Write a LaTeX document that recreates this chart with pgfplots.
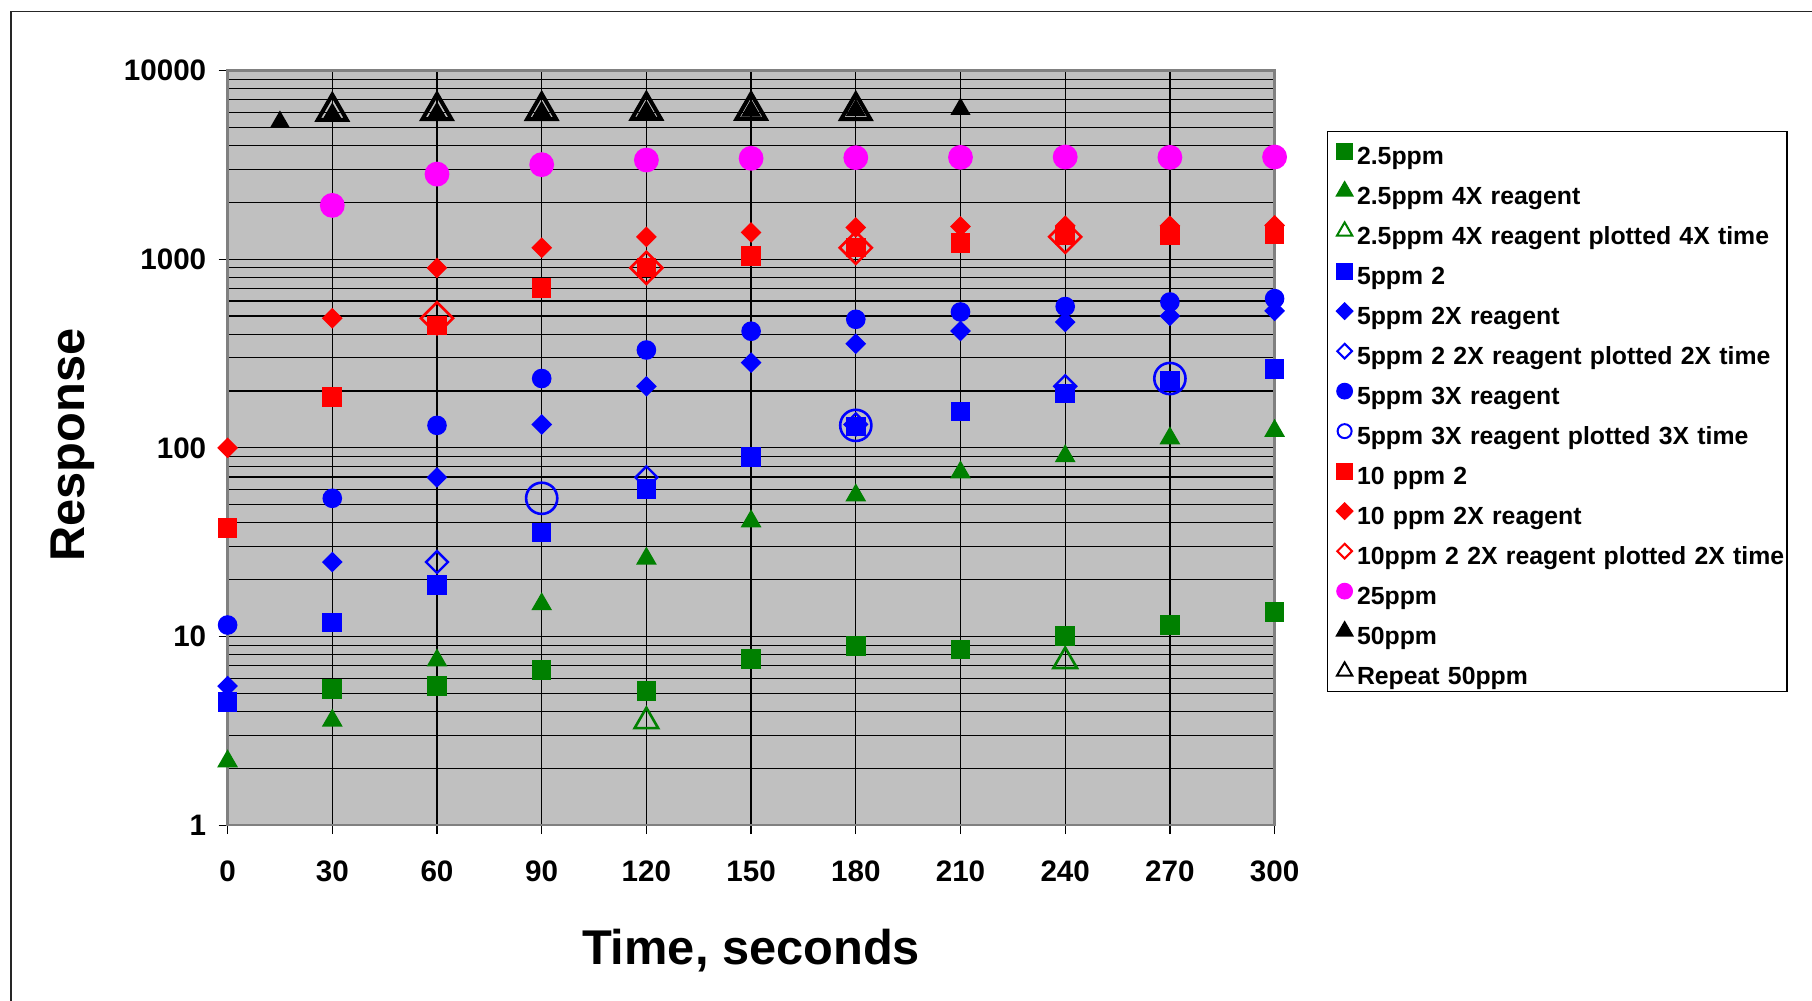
\documentclass[border=0pt]{standalone}
\usepackage{fontspec}
\setmainfont{Liberation Sans}
\usepackage{pgfplots}
\pgfplotsset{compat=1.18}
\definecolor{xlgreen}{RGB}{0,128,0}
\definecolor{xlblue}{RGB}{0,0,255}
\definecolor{xlred}{RGB}{255,0,0}
\definecolor{xlpink}{RGB}{255,0,255}
\definecolor{plotgray}{RGB}{192,192,192}
\definecolor{framegray}{RGB}{128,128,128}

% marker styles for the plot
\pgfplotsset{
  pSq/.style={only marks, forget plot, mark=square*, mark size=2.25pt, color=#1},
  pTri/.style={only marks, forget plot, mark=triangle*, mark size=2.6pt, color=#1, mark options={yshift=-0.65pt}},
  pDia/.style={only marks, forget plot, mark=square*, mark size=1.63pt, color=#1, mark options={rotate=45}},
  pDot/.style={only marks, forget plot, mark=*, mark size=2.25pt, color=#1},
  % legend versions
  lSq/.style={mark=square*, mark size=1.9pt, color=#1},
  lTri/.style={mark=triangle*, mark size=2.3pt, color=#1},
  lTriO/.style={mark=triangle, mark size=2.2pt, color=#1, mark options={line width=0.5pt}},
  lDia/.style={mark=square*, mark size=1.4pt, color=#1, mark options={rotate=45}},
  lDiaO/.style={mark=square, mark size=1.3pt, color=#1, mark options={rotate=45, line width=0.5pt}},
  lDot/.style={mark=*, mark size=1.9pt, color=#1},
  lDotO/.style={mark=o, mark size=1.75pt, color=#1, mark options={line width=0.5pt}},
}

\begin{document}
\begin{tikzpicture}
\useasboundingbox (-56.9pt,-43.725pt) rectangle (396.1pt,206.275pt);
\draw[line width=0.4pt, black!85] (-54.1pt,-60pt) -- (-54.1pt,203.4pt) -- (420pt,203.4pt);
\begin{axis}[
  at={(0pt,0pt)}, anchor=south west,
  scale only axis, width=261.75pt, height=188.65pt,
  ymode=log,
  xmin=0, xmax=300, ymin=1, ymax=10000,
  clip=false,
  axis background/.style={fill=plotgray},
  axis line style={draw=framegray, line width=0.6pt},
  xtick={0,30,...,300},
  ytick={1,10,100,1000,10000},
  yticklabels={1,10,100,1000,10000},
  minor ytick={2,3,4,5,6,7,8,9,20,30,40,50,60,70,80,90,200,300,400,500,600,700,800,900,2000,3000,4000,5000,6000,7000,8000,9000},
  xmajorgrids, ymajorgrids, yminorgrids,
  major grid style={black, line width=0.3pt},
  minor grid style={black, line width=0.3pt},
  tick pos=left, tick align=outside,
  major tick length=2.25pt, minor tick length=0pt,
  tick style={black, line width=0.3pt},
  /pgf/number format/assume math mode=true,
  tick label style={font=\fontsize{7.4}{8.5}\selectfont\bfseries},
  xticklabel style={anchor=north, inner sep=0pt, yshift=-6.6pt},
  yticklabel style={anchor=east, inner sep=0pt, xshift=-2.9pt},
  xlabel={Time, seconds},
  ylabel={Response},
  xlabel style={at={(axis description cs:0.5,-0.1668)}, anchor=center, font=\fontsize{12.2}{14}\selectfont\bfseries},
  ylabel style={at={(axis description cs:-0.1482,0.5037)}, anchor=center, font=\fontsize{12.2}{14}\selectfont\bfseries},
  legend image code/.code={\path (0pt,0pt) (6.5pt,0pt); \draw[#1] plot coordinates {(4.1pt,3.3pt)};},
  legend cell align=left,
  legend style={at={(1.0497,0.9202)}, anchor=north west, draw=black, line width=0.4pt, fill=white,
    inner sep=0pt, row sep=0pt, column sep=0.5pt,
    font=\fontsize{6.2}{7}\selectfont\bfseries,
    cells={anchor=base west},
    nodes={inner sep=0pt, text height=8.2pt, text depth=1.8pt, text width=107.5pt, align=left}},
]
% 2.5ppm
\addplot[pSq=xlgreen] coordinates {(30,5.26)(60,5.48)(90,6.64)(120,5.14)(150,7.59)(180,8.92)(210,8.53)(240,10.08)(270,11.48)(300,13.46)};
% 2.5ppm 4X reagent
\addplot[pTri=xlgreen] coordinates {(0,2.25)(30,3.70)(60,7.71)(90,15.3)(120,26.7)(150,42.1)(180,57.8)(210,76.5)(240,93.3)(270,116)(300,127)};
% 2.5ppm 4X reagent plotted 4X time
\addplot[only marks, forget plot, mark=triangle, mark size=3.4pt, color=xlgreen, mark options={line width=0.65pt, yshift=-0.85pt}] coordinates {(120,3.70)(240,7.71)};
% 5ppm 2
\addplot[pSq=xlblue] coordinates {(0,4.51)(30,11.86)(60,18.7)(90,35.6)(120,60.7)(150,89.2)(180,130)(210,156)(240,194)(270,226)(300,262)};
% 5ppm 2X reagent
\addplot[pDia=xlblue] coordinates {(0,5.46)(30,24.8)(60,69.7)(90,133)(120,212)(150,283)(180,356)(210,416)(240,464)(270,500)(300,532)};
% 5ppm 2 2X reagent plotted 2X time
\addplot[only marks, forget plot, mark=square, mark size=1.94pt, color=xlblue, mark options={rotate=45, line width=0.6pt}] coordinates {(60,24.8)(120,69.7)(180,133)(240,212)};
% 5ppm 3X reagent
\addplot[pDot=xlblue] coordinates {(0,11.5)(30,54.0)(60,131.5)(90,233)(120,330)(150,415)(180,480)(210,525)(240,561)(270,593)(300,618)};
% 5ppm 3X reagent plotted 3X time
\addplot[only marks, forget plot, mark=o, mark size=3.9pt, color=xlblue, mark options={line width=0.65pt}] coordinates {(90,54.0)(180,131.5)(270,233)};
% 10 ppm 2
\addplot[pSq=xlred] coordinates {(0,37.6)(30,186)(60,446)(90,701)(120,904)(150,1038)(180,1154)(210,1216)(240,1337)(270,1345)(300,1358)};
% 10 ppm 2X reagent
\addplot[pDia=xlred] coordinates {(0,100)(30,486)(60,899)(90,1149)(120,1314)(150,1385)(180,1472)(210,1491)(240,1503)(270,1503)(300,1510)};
% 10ppm 2 2X reagent plotted 2X time
\addplot[only marks, forget plot, mark=square, mark size=2.83pt, color=xlred, mark options={rotate=45, line width=0.65pt}] coordinates {(60,486)(120,899)(180,1149)(240,1314)};
% 25ppm
\addplot[only marks, forget plot, mark=*, mark size=2.9pt, color=xlpink] coordinates {(30,1928)(60,2825)(90,3170)(120,3355)(150,3424)(180,3452)(210,3467)(240,3481)(270,3467)(300,3481)};
% 50ppm
\addplot[only marks, forget plot, mark=triangle*, mark size=2.5pt, color=black, mark options={yshift=-0.62pt}] coordinates {(15,5496)(30,6055)(60,6130)(90,6200)(120,6250)(150,6300)(180,6350)(210,6440)};
% Repeat 50ppm
\addplot[only marks, forget plot, mark=triangle, mark size=4.2pt, color=black, mark options={line width=1pt, yshift=-1.05pt}] coordinates {(30,6384)(60,6440)(90,6450)(120,6470)(150,6470)(180,6450)};

\addlegendimage{lSq=xlgreen}\addlegendentry{2.5ppm}
\addlegendimage{lTri=xlgreen}\addlegendentry{2.5ppm 4X reagent}
\addlegendimage{lTriO=xlgreen}\addlegendentry{2.5ppm 4X reagent plotted 4X time}
\addlegendimage{lSq=xlblue}\addlegendentry{5ppm 2}
\addlegendimage{lDia=xlblue}\addlegendentry{5ppm 2X reagent}
\addlegendimage{lDiaO=xlblue}\addlegendentry{5ppm 2 2X reagent plotted 2X time}
\addlegendimage{lDot=xlblue}\addlegendentry{5ppm 3X reagent}
\addlegendimage{lDotO=xlblue}\addlegendentry{5ppm 3X reagent plotted 3X time}
\addlegendimage{lSq=xlred}\addlegendentry{10 ppm 2}
\addlegendimage{lDia=xlred}\addlegendentry{10 ppm 2X reagent}
\addlegendimage{lDiaO=xlred}\addlegendentry{10ppm 2 2X reagent plotted 2X time}
\addlegendimage{lDot=xlpink}\addlegendentry{25ppm}
\addlegendimage{lTri=black}\addlegendentry{50ppm}
\addlegendimage{lTriO=black}\addlegendentry{Repeat 50ppm}
\end{axis}
\end{tikzpicture}
\end{document}
